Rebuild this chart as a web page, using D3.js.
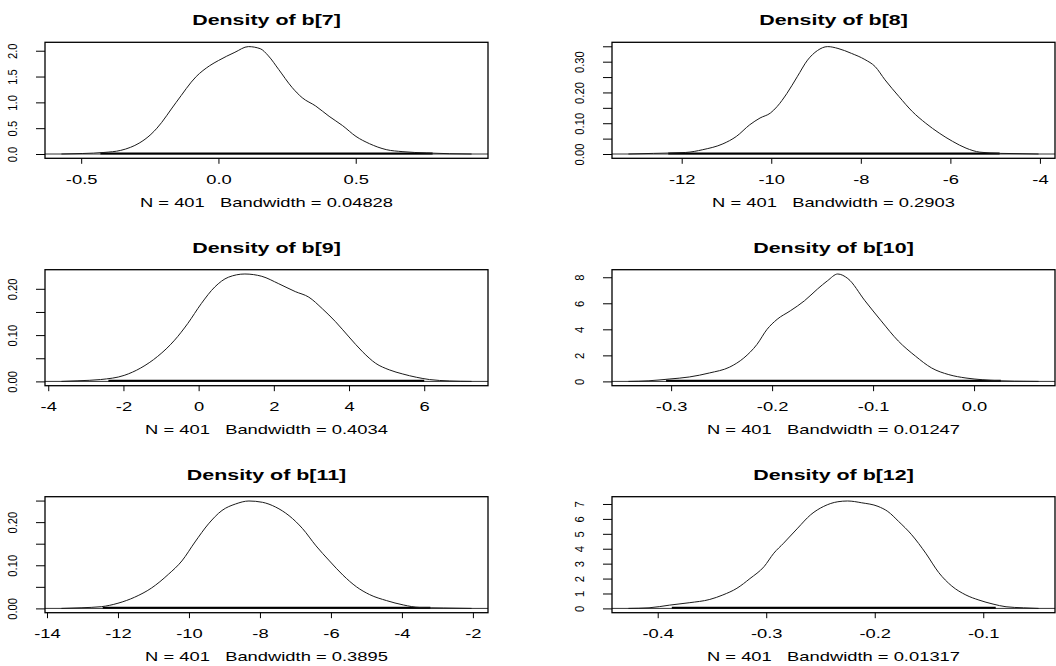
<!DOCTYPE html>
<html>
<head>
<meta charset="utf-8">
<script src="https://cdnjs.cloudflare.com/ajax/libs/d3/7.8.5/d3.min.js"></script>
<style>
  body { margin: 0; background: #fff; }
  text { font-family: "Liberation Sans", Arial, sans-serif; fill: #000; }
</style>
</head>
<body>
<script>
// coda densplot of b[7]..b[12]
const params = ['b[7]', 'b[8]', 'b[9]', 'b[10]', 'b[11]', 'b[12]']
const nIter = [401, 401, 401, 401, 401, 401]
const bandwidths = ['0.04828', '0.2903', '0.4034', '0.01247', '0.3895', '0.01317']

// density curves, [x, density]
const dens7 = [[-0.572, 0], [-0.494, 0.01], [-0.417, 0.03], [-0.356, 0.07], [-0.32, 0.13], [-0.289, 0.21],
  [-0.246, 0.38], [-0.224, 0.5], [-0.154, 1.0], [-0.081, 1.5], [-0.032, 1.71], [0.0, 1.81], [0.06, 1.97],
  [0.109, 2.08], [0.152, 2.04], [0.182, 1.9], [0.219, 1.64], [0.268, 1.29], [0.305, 1.09], [0.354, 0.93],
  [0.403, 0.73], [0.452, 0.55], [0.501, 0.34], [0.55, 0.2], [0.611, 0.085], [0.672, 0.045], [0.758, 0.02],
  [0.841, 0.006], [0.922, 0]]
const dens8 = [[-13.19, 0], [-12.63, 0.002], [-11.91, 0.005], [-11.53, 0.014], [-11.08, 0.033], [-10.78, 0.057],
  [-10.48, 0.095], [-10.25, 0.117], [-10.02, 0.133], [-9.87, 0.154], [-9.65, 0.197], [-9.42, 0.251],
  [-9.19, 0.305], [-8.97, 0.336], [-8.74, 0.349], [-8.51, 0.343], [-8.21, 0.327], [-7.91, 0.307],
  [-7.68, 0.284], [-7.46, 0.241], [-7.15, 0.187], [-6.85, 0.138], [-6.55, 0.1], [-6.25, 0.068],
  [-5.95, 0.041], [-5.65, 0.019], [-5.34, 0.006], [-4.89, 0.002], [-4.4, 0.001], [-4.03, 0]]
const dens9 = [[-3.65, 0], [-3.21, 0.0014], [-2.61, 0.004], [-1.98, 0.013], [-1.54, 0.029], [-1.09, 0.054],
  [-0.64, 0.089], [-0.29, 0.125], [0.07, 0.168], [0.43, 0.204], [0.79, 0.225], [1.23, 0.232], [1.68, 0.227],
  [2.13, 0.211], [2.57, 0.194], [2.93, 0.182], [3.29, 0.157], [3.64, 0.129], [4.0, 0.096], [4.36, 0.064],
  [4.71, 0.039], [5.07, 0.025], [5.43, 0.016], [5.79, 0.009], [6.14, 0.004], [6.68, 0.001], [7.26, 0]]
const dens10 = [[-0.3423, 0], [-0.322, 0.05], [-0.302, 0.18], [-0.282, 0.34], [-0.262, 0.65], [-0.242, 1.1],
  [-0.228, 1.8], [-0.215, 2.84], [-0.205, 4.0], [-0.195, 4.77], [-0.182, 5.42], [-0.168, 6.19], [-0.155, 7.1],
  [-0.145, 7.74], [-0.135, 8.25], [-0.125, 7.9], [-0.108, 6.19], [-0.092, 4.65], [-0.075, 3.1], [-0.058, 1.94],
  [-0.042, 1.03], [-0.025, 0.52], [-0.008, 0.26], [0.008, 0.13], [0.025, 0.05], [0.04, 0.02], [0.0639, 0]]
const dens11 = [[-13.594, 0], [-13.04, 0.0015], [-12.47, 0.004], [-12.0, 0.012], [-11.53, 0.026], [-11.06, 0.047],
  [-10.58, 0.079], [-10.2, 0.11], [-9.83, 0.154], [-9.45, 0.196], [-9.07, 0.227], [-8.69, 0.242],
  [-8.31, 0.249], [-7.93, 0.246], [-7.56, 0.235], [-7.18, 0.215], [-6.8, 0.185], [-6.42, 0.145],
  [-6.04, 0.11], [-5.66, 0.077], [-5.28, 0.05], [-4.91, 0.032], [-4.43, 0.018], [-3.96, 0.008],
  [-3.49, 0.002], [-2.82, 0.001], [-2.037, 0]]
const dens12 = [[-0.427, 0], [-0.408, 0.04], [-0.389, 0.22], [-0.371, 0.38], [-0.352, 0.6], [-0.34, 0.9],
  [-0.327, 1.35], [-0.315, 2.0], [-0.302, 2.8], [-0.293, 3.7], [-0.284, 4.37], [-0.271, 5.38], [-0.259, 6.28],
  [-0.247, 6.84], [-0.234, 7.15], [-0.225, 7.2], [-0.212, 7.08], [-0.197, 6.84], [-0.188, 6.5], [-0.178, 5.83],
  [-0.166, 4.94], [-0.153, 3.7], [-0.141, 2.4], [-0.129, 1.5], [-0.116, 0.9], [-0.104, 0.56], [-0.091, 0.29],
  [-0.079, 0.11], [-0.063, 0.04], [-0.049, 0]]
const curves = [dens7, dens8, dens9, dens10, dens11, dens12]

// spread of the draws (rug along the bottom)
const obsMin = [-0.43, -12.3, -2.4, -0.305, -12.43, -0.387]
const obsMax = [0.78, -4.9, 6.0, 0.0265, -3.2, -0.0885]

const xTicks = [[-0.5, 0, 0.5], [-12, -10, -8, -6, -4], [-4, -2, 0, 2, 4, 6],
  [-0.3, -0.2, -0.1, 0], [-14, -12, -10, -8, -6, -4, -2], [-0.4, -0.3, -0.2, -0.1]]
const xTickLabels = [['-0.5', '0.0', '0.5'], ['-12', '-10', '-8', '-6', '-4'], ['-4', '-2', '0', '2', '4', '6'],
  ['-0.3', '-0.2', '-0.1', '0.0'], ['-14', '-12', '-10', '-8', '-6', '-4', '-2'], ['-0.4', '-0.3', '-0.2', '-0.1']]
const yTicks = [[0, 0.5, 1, 1.5, 2], [0, 0.05, 0.1, 0.15, 0.2, 0.25, 0.3, 0.35], [0, 0.05, 0.1, 0.15, 0.2],
  [0, 2, 4, 6, 8], [0, 0.05, 0.1, 0.15, 0.2, 0.25], [0, 1, 2, 3, 4, 5, 6, 7]]
const yTickLabels = [['0.0', '0.5', '1.0', '1.5', '2.0'], ['0.00', '', '0.10', '', '0.20', '', '0.30', ''],
  ['0.00', '', '0.10', '', '0.20'], ['0', '2', '4', '6', '8'], ['0.00', '', '0.10', '', '0.20', ''],
  ['0', '1', '2', '3', '4', '5', '6', '7']]

;(function () {
  const colX = [45, 612]
  const rowY = [42.3, 269.7, 496.7]
  const boxW = 443
  const boxH = 116
  const stretch = 1.53

  const svg = d3.select('body').append('svg')
                .attr('width', 1056)
                .attr('height', 666)

  params.forEach((p, i) => {
    const left = colX[i % 2]
    const top = rowY[Math.floor(i / 2)]
    const data = curves[i]

    // R style limits: data range padded 4% each side
    const xr = d3.extent(data, d => d[0])
    const pad = (xr[1] - xr[0]) * 0.04
    const x = d3.scaleLinear().domain([xr[0] - pad, xr[1] + pad]).range([left, left + boxW])
    const ymax = d3.max(data, d => d[1])
    const y = d3.scaleLinear().domain([-0.04 * ymax, 1.04 * ymax]).range([top + boxH, top])

    const g = svg.append('g')

    // x axis
    const xg = g.append('g')
                .attr('transform', `translate(0,${top + boxH})`)
                .call(d3.axisBottom(x)
                        .tickValues(xTicks[i])
                        .tickFormat((d, j) => xTickLabels[i][j])
                        .tickSize(5.5))
                .attr('font-family', null)
                .attr('font-size', 12)
    xg.select('.domain').remove()
    xg.selectAll('line').attr('stroke', '#000')
    xg.selectAll('text')
      .attr('y', 25.5)
      .attr('dy', null)
      .attr('fill', '#000')
      .attr('transform', `scale(${stretch},1)`)

    // y axis, labels parallel to the axis
    const yg = g.append('g')
                .attr('transform', `translate(${left},0)`)
                .call(d3.axisLeft(y)
                        .tickValues(yTicks[i])
                        .tickFormat((d, j) => yTickLabels[i][j])
                        .tickSize(9))
                .attr('font-family', null)
                .attr('font-size', 12.5)
    yg.select('.domain').remove()
    yg.selectAll('line').attr('stroke', '#000')
    yg.selectAll('text')
      .attr('x', null)
      .attr('dy', null)
      .attr('text-anchor', 'middle')
      .attr('fill', '#000')
      .attr('transform', 'translate(-28,0) rotate(-90) scale(0.9,1)')

    // zero line
    g.append('line')
     .attr('x1', x.range()[0])
     .attr('x2', x.range()[1])
     .attr('y1', y(0))
     .attr('y2', y(0))
     .attr('stroke', '#333')
     .attr('stroke-width', 1)

    // rug of the draws
    g.append('line')
     .attr('x1', x(obsMin[i]))
     .attr('x2', x(obsMax[i]))
     .attr('y1', (y(0) + y(ymax / 100)) / 2)
     .attr('y2', (y(0) + y(ymax / 100)) / 2)
     .attr('stroke', '#000')
     .attr('stroke-width', 2)

    // density curve
    g.append('path')
     .datum(data)
     .attr('fill', 'none')
     .attr('stroke', '#1a1a1a')
     .attr('stroke-width', 1)
     .attr('d', d3.line()
                  .x(d => x(d[0]))
                  .y(d => y(d[1]))
                  .curve(d3.curveMonotoneX))

    // frame
    g.append('rect')
     .attr('x', left)
     .attr('y', top)
     .attr('width', boxW)
     .attr('height', boxH)
     .attr('fill', 'none')
     .attr('stroke', '#000')
     .attr('stroke-width', 1.3)

    const cx = left + boxW / 2
    g.append('text')
     .attr('transform', `translate(${cx},${top - 17}) scale(${stretch},1)`)
     .attr('text-anchor', 'middle')
     .attr('font-size', 14)
     .attr('font-weight', 'bold')
     .text(`Density of ${p}`)

    g.append('text')
     .attr('transform', `translate(${cx},${top + boxH + 48.5}) scale(${stretch},1)`)
     .attr('text-anchor', 'middle')
     .attr('font-size', 12)
     .style('white-space', 'pre')
     .text(`N = ${nIter[i]}   Bandwidth = ${bandwidths[i]}`)
  })
})()
</script>
</body>
</html>
